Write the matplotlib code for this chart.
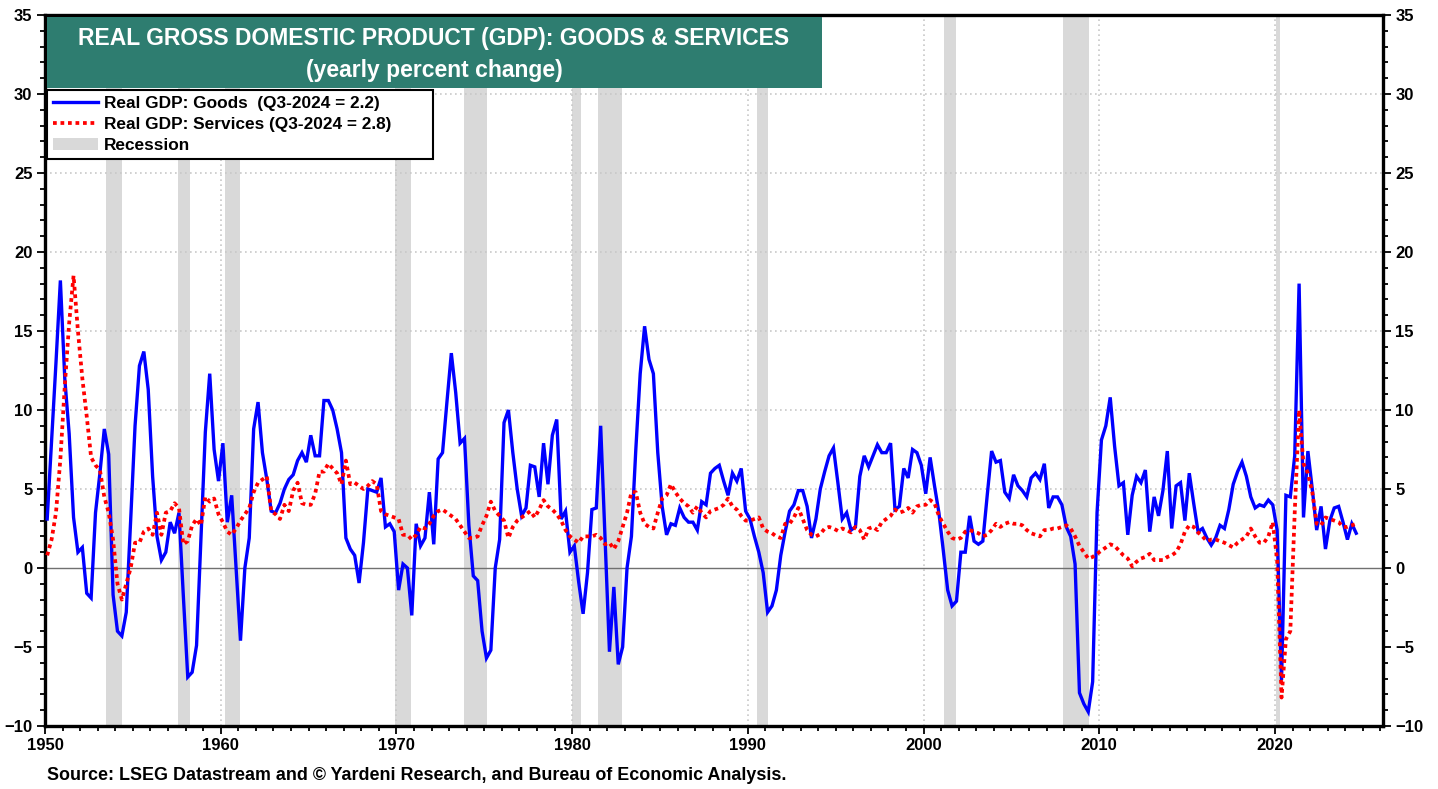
import numpy as np
import matplotlib
matplotlib.use("Agg")
import matplotlib.pyplot as plt
from matplotlib.patches import Patch, Rectangle
from matplotlib.lines import Line2D

plt.rcParams["font.family"] = ["Liberation Sans", "DejaVu Sans"]
plt.rcParams["font.weight"] = "bold"

# quarterly yearly % change, 1950Q1 .. 2024Q3
start_year = 1950
goods = [
    3.1, 8.0, 13.0, 18.2,   12.0, 8.5, 3.2, 1.0,    1.3, -1.6, -1.9, 3.5,   6.0, 8.8, 7.2, -1.7,
    -4.0, -4.3, -2.8, 3.0,  9.0, 12.8, 13.7, 11.3,  5.8, 2.0, 0.5, 1.0,     2.9, 2.2, 3.5, -1.8,
    -6.9, -6.6, -4.9, 1.8,  8.6, 12.3, 7.5, 5.5,    7.9, 2.9, 4.6, 0.0,     -4.6, 0.0, 1.9, 8.8,
    10.5, 7.3, 5.6, 3.6,    3.5, 4.1, 5.0, 5.6,     5.9, 6.8, 7.3, 6.7,     8.4, 7.1, 7.1, 10.6,
    10.6, 10.0, 8.8, 7.3,   1.9, 1.2, 0.8, -0.95,   1.6, 5.0, 4.9, 4.8,     5.7, 2.6, 2.8, 2.3,
    -1.4, 0.25, 0.0, -3.0,  2.8, 1.4, 1.9, 4.8,     1.5, 6.9, 7.3, 10.5,    13.6, 11.1, 7.9, 8.2,
    2.7, -0.5, -0.8, -4.0,  -5.7, -5.2, 0.0, 1.8,   9.2, 10.0, 7.3, 5.0,    3.3, 3.8, 6.5, 6.4,
    4.5, 7.9, 5.3, 8.4,     9.4, 3.1, 3.6, 1.0,     1.4, -0.9, -2.9, -0.3,  3.7, 3.8, 9.0, 1.8,
    -5.3, -1.2, -6.1, -5.0, 0.0, 2.0, 7.5, 12.3,    15.3, 13.2, 12.3, 7.3,  3.9, 2.1, 2.8, 2.7,
    3.8, 3.2, 2.9, 2.9,     2.4, 4.2, 4.0, 6.0,     6.3, 6.5, 5.5, 4.6,     6.0, 5.5, 6.3, 3.6,
    3.1, 2.0, 1.0, -0.3,    -2.8, -2.4, -1.4, 0.8,  2.3, 3.6, 4.0, 4.9,     4.9, 3.9, 1.9, 3.1,
    5.0, 6.1, 7.1, 7.6,     5.4, 3.1, 3.5, 2.4,     2.6, 5.8, 7.1, 6.4,     7.1, 7.8, 7.3, 7.3,
    7.9, 3.7, 3.9, 6.3,     5.7, 7.5, 7.3, 6.5,     4.7, 7.0, 5.2, 3.5,     1.1, -1.4, -2.4, -2.1,
    1.0, 1.0, 3.3, 1.7,     1.5, 1.7, 4.6, 7.4,     6.7, 6.8, 4.8, 4.4,     5.9, 5.2, 4.9, 4.5,
    5.7, 6.0, 5.6, 6.6,     3.8, 4.5, 4.5, 4.0,     2.6, 2.0, 0.25, -7.9,   -8.6, -9.1, -7.2, 3.5,
    8.1, 9.0, 10.8, 7.7,    5.2, 5.4, 2.1, 4.6,     5.8, 5.4, 6.2, 2.3,     4.5, 3.3, 4.9, 7.4,
    2.5, 5.2, 5.4, 3.0,     6.0, 4.1, 2.3, 2.5,     1.9, 1.45, 1.9, 2.7,    2.5, 3.7, 5.3, 6.1,
    6.7, 5.8, 4.5, 3.8,     4.0, 3.9, 4.3, 4.0,     2.4, -7.1, 4.6, 4.5,    7.1, 18.0, 3.2, 7.4,
    5.0, 2.4, 3.9, 1.2,     3.0, 3.8, 3.9, 2.9,     1.8, 2.8, 2.2,
]
services = [
    0.8, 1.8, 3.5, 6.9,     11.5, 15.5, 18.5, 15.0, 12.0, 9.6, 7.0, 6.5,    6.2, 4.5, 3.5, 1.8,
    -1.0, -2.0, -1.0, 0.0,  1.6, 1.6, 2.3, 2.5,     2.1, 3.5, 2.1, 3.5,     3.6, 4.1, 3.8, 1.5,
    1.7, 2.7, 3.1, 2.7,     4.5, 4.2, 4.4, 3.4,     2.9, 2.3, 2.1, 2.5,     3.0, 3.4, 3.8, 4.8,
    5.4, 5.6, 5.8, 3.6,     3.4, 3.1, 4.0, 3.6,     4.9, 5.4, 4.1, 4.0,     4.0, 4.7, 6.1, 6.1,
    6.6, 6.3, 6.0, 5.3,     6.8, 5.3, 5.4, 5.2,     5.0, 5.2, 5.5, 5.3,     3.6, 3.4, 3.3, 3.2,
    3.1, 2.1, 2.1, 1.8,     2.1, 2.6, 2.5, 2.8,     3.3, 3.6, 3.7, 3.5,     3.3, 3.1, 2.7, 2.3,
    1.9, 1.9, 2.0, 2.7,     3.3, 4.2, 3.6, 3.3,     3.0, 1.9, 2.6, 3.0,     3.2, 3.4, 3.6, 3.2,
    3.7, 4.3, 3.9, 3.7,     3.4, 3.0, 2.4, 2.0,     1.8, 1.6, 2.0, 2.0,     2.0, 2.1, 1.9, 1.5,
    1.6, 1.2, 1.7, 2.6,     3.5, 4.8, 4.8, 3.5,     2.8, 2.6, 2.5, 3.5,     4.4, 4.6, 5.3, 4.8,
    4.4, 4.1, 3.9, 3.5,     3.9, 3.5, 3.2, 3.6,     3.7, 3.8, 4.0, 4.4,     3.9, 3.7, 3.3, 3.0,
    3.0, 3.1, 3.2, 2.5,     2.3, 2.2, 2.0, 1.9,     2.8, 2.8, 3.2, 3.8,     3.1, 2.4, 2.1, 2.0,
    2.15, 2.5, 2.6, 2.5,    2.35, 2.5, 2.4, 2.25,   2.6, 2.4, 1.8, 2.5,     2.6, 2.4, 2.9, 3.1,
    3.3, 3.7, 3.5, 3.6,     3.8, 3.5, 3.9, 4.0,     4.0, 4.3, 4.1, 3.3,     2.8, 2.3, 1.9, 1.8,
    1.9, 2.3, 2.4, 2.3,     2.2, 2.0, 2.1, 2.4,     2.8, 2.6, 2.8, 2.9,     2.8, 2.8, 2.7, 2.4,
    2.2, 2.1, 2.0, 2.4,     2.4, 2.5, 2.5, 2.6,     2.7, 2.5, 2.0, 1.4,     1.0, 0.6, 0.7, 0.9,
    1.1, 1.3, 1.5, 1.4,     1.1, 0.8, 0.6, 0.1,     0.4, 0.6, 0.7, 0.9,     0.5, 0.5, 0.5, 0.7,
    0.8, 1.0, 1.5, 2.3,     2.7, 2.6, 2.25, 2.0,    1.7, 1.8, 1.8, 1.7,     1.6, 1.45, 1.3, 1.6,
    1.8, 2.0, 2.5, 2.0,     1.6, 1.6, 2.0, 2.9,     0.5, -8.2, -4.5, -4.0,  3.5, 10.0, 6.6, 6.0,
    4.8, 2.8, 2.7, 3.2,     3.1, 3.0, 2.9, 2.6,     2.6, 2.7, 2.8,
]
recessions = [
    (1953.50, 1954.37), (1957.58, 1958.25), (1960.25, 1961.08), (1969.92, 1970.83),
    (1973.83, 1975.17), (1980.00, 1980.50), (1981.50, 1982.83), (1990.50, 1991.17),
    (2001.17, 2001.83), (2007.92, 2009.42), (2020.08, 2020.29),
]
goods_label = "Real GDP: Goods  (Q3-2024 = 2.2)"
services_label = "Real GDP: Services (Q3-2024 = 2.8)"

quarters = np.arange(len(goods))
dates = start_year + quarters / 4 + 0.125

fig = plt.figure(figsize=(14.38, 7.89), dpi=100)
ax = fig.add_axes([45 / 1438, 1 - 726 / 789, 1338 / 1438, 711 / 789])

grid_color = "#c8c8c8"
for a, b in recessions:
    ax.axvspan(a, b, color="#d9d9d9", lw=0, zorder=0)
for yv in range(5, 35, 5):
    ax.axhline(yv, color=grid_color, lw=1.2, ls=(0, (1, 2)), zorder=1)
for xv in range(1960, 2030, 10):
    ax.axvline(xv, color=grid_color, lw=1.2, ls=(0, (1, 2)), zorder=1)
ax.axhline(0, color="#707070", lw=1.0, zorder=1)

ax.plot(dates, goods, color="#0000ff", lw=2.4, zorder=3, solid_joinstyle="miter")
ax.plot(dates, services, color="#ff0000", lw=2.7, ls=(0, (1, 1)), zorder=4)

ax.set_xlim(1950, 2026.15)
ax.set_ylim(-10, 35)
ax.set_xticks(range(1950, 2030, 10))
ax.set_xticks(range(1950, 2027), minor=True)
ax.set_yticks(range(-10, 40, 5))
ax.set_yticks(range(-10, 36), minor=True)
ax.tick_params(which="both", direction="out", width=1.3, right=True, labelright=True,
               labelsize=12)
ax.tick_params(which="major", length=6, pad=3)
ax.tick_params(which="minor", length=3.5)
for s in ax.spines.values():
    s.set_linewidth(2.4)

# title box
fig.patches.append(Rectangle((47 / 1438, 1 - 88 / 789), 775 / 1438, 71 / 789,
                             transform=fig.transFigure, facecolor="#2e7d70",
                             edgecolor="none", zorder=5))
fig.text(434 / 1438, 1 - 38 / 789, "REAL GROSS DOMESTIC PRODUCT (GDP): GOODS & SERVICES",
         color="white", fontsize=16.5, ha="center", va="center", zorder=6)
fig.text(434 / 1438, 1 - 70 / 789, "(yearly percent change)",
         color="white", fontsize=16.5, ha="center", va="center", zorder=6)

handles = [
    Line2D([], [], color="#0000ff", lw=2.4),
    Line2D([], [], color="#ff0000", lw=2.7, ls=(0, (1, 1))),
    Patch(facecolor="#d9d9d9", edgecolor="none"),
]
leg = ax.legend(handles, [goods_label, services_label, "Recession"],
                loc="upper left", mode="expand",
                bbox_to_anchor=(47 / 1438, 1 - 158 / 789, 386 / 1438, 68 / 789),
                bbox_transform=fig.transFigure, fontsize=12.4, frameon=True,
                fancybox=False, framealpha=1, edgecolor="black",
                borderpad=0.35, labelspacing=0.34, handlelength=2.6,
                handletextpad=0.35, borderaxespad=0)
leg.get_frame().set_linewidth(1.5)
leg.set_zorder(7)

fig.text(47 / 1438, 1 - 775 / 789,
         "Source: LSEG Datastream and \u00a9 Yardeni Research, and Bureau of Economic Analysis.",
         fontsize=12.9, ha="left", va="center")

fig.savefig("out.png", dpi=100)
